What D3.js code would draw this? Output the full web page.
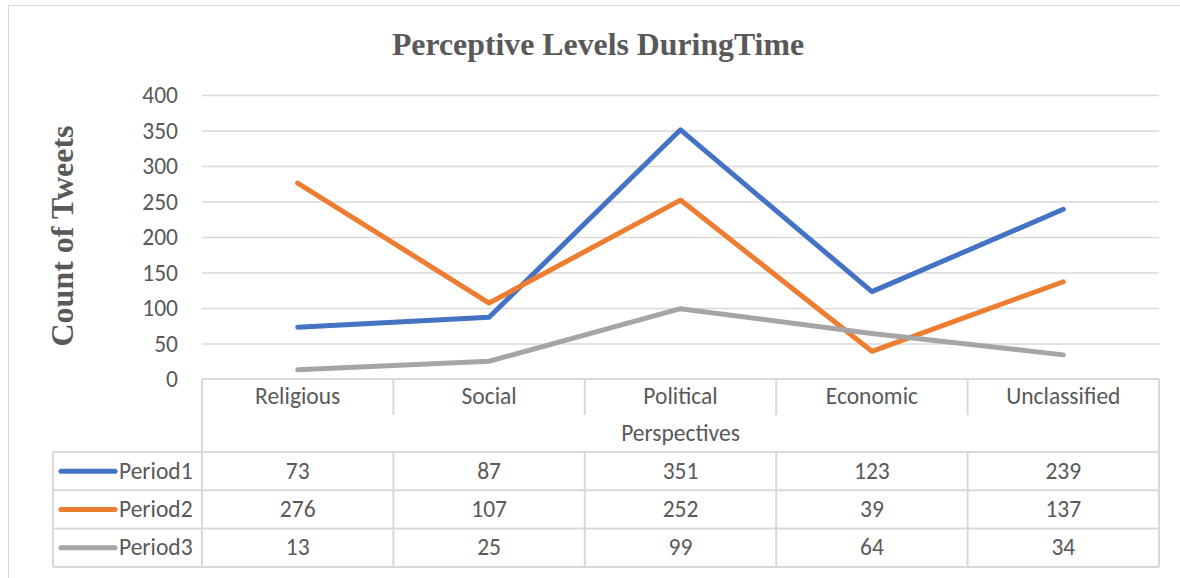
<!DOCTYPE html>
<html><head><meta charset="utf-8">
<script src="https://cdn.jsdelivr.net/npm/d3@7"></script>
<style>
html,body{margin:0;padding:0;background:#fff;}
svg{display:block;}
</style></head>
<body>
<svg id="chart" width="1180" height="578"></svg>
<script>
const categories = ["Religious","Social","Political","Economic","Unclassified"];
const seriesNames = ["Period1","Period2","Period3"];
const period1 = [73,87,351,123,239];
const period2 = [276,107,252,39,137];
const period3 = [13,25,99,64,34];
const yTicks = [0,50,100,150,200,250,300,350,400];
const colors = ["#4472C4","#ED7D31","#A5A5A5"];
const title = "Perceptive Levels DuringTime";
const yLabel = "Count of Tweets";
const xLabel = "Perspectives";

(function(){
const series = [period1, period2, period3];
const svg = d3.select("#chart");
const sansFont = "Carlito, Calibri, 'Open Sans', sans-serif";
const serifFont = "'Liberation Serif', 'Times New Roman', serif";
const textColor = "#595959";
const gridColor = "#d9d9d9";
const fs = 23.5;

svg.append("rect").attr("x",8.5).attr("y",5.5).attr("width",1200).attr("height",600)
  .attr("fill","none").attr("stroke","#d9d9d9").attr("stroke-width",1);

const pLeft = 202, pRight = 1159, pTop = 95, pBottom = 379;
const x = d3.scaleBand().domain(categories).range([pLeft,pRight]).padding(0);
const y = d3.scaleLinear().domain([0,400]).range([pBottom,pTop]);

svg.append("text").attr("x",598).attr("y",55).attr("text-anchor","middle")
  .attr("font-family",serifFont).attr("font-weight","bold").attr("font-size",31.8)
  .attr("fill",textColor).text(title);

svg.append("text").attr("transform","translate(73,236) rotate(-90)").attr("text-anchor","middle")
  .attr("font-family",serifFont).attr("font-weight","bold").attr("font-size",32)
  .attr("fill",textColor).text(yLabel);

const yAxis = d3.axisLeft(y).tickValues(yTicks).tickSize(-(pRight-pLeft)).tickPadding(24);
const gy = svg.append("g").attr("transform",`translate(${pLeft},0)`).call(yAxis);
gy.select(".domain").remove();
gy.selectAll(".tick line").attr("stroke",gridColor).attr("stroke-width",1.5);
gy.selectAll(".tick text").attr("font-family",sansFont).attr("font-size",fs).attr("fill",textColor);
gy.selectAll(".tick").filter(d=>d===0).select("line").remove();

const tbl = svg.append("g");
const rowTop = pBottom, catBottom = 415, perspBottom = 452;
const rowH = 38.3;
const tableLeft = 53;
const ln = (x1,y1,x2,y2)=>tbl.append("line").attr("x1",x1).attr("y1",y1).attr("x2",x2).attr("y2",y2)
  .attr("stroke",gridColor).attr("stroke-width",2);
ln(pLeft,rowTop,pRight,rowTop);
ln(pLeft,rowTop,pLeft,perspBottom);
ln(pRight,rowTop,pRight,perspBottom);
categories.forEach((c,i)=>{ if(i>0) ln(x(c),rowTop,x(c),catBottom); });
ln(tableLeft,perspBottom,pRight,perspBottom);
for(let r=0;r<3;r++){
  const yb = perspBottom + rowH*(r+1);
  ln(tableLeft,yb,pRight,yb);
}
const tBottom = perspBottom + rowH*3;
ln(tableLeft,perspBottom,tableLeft,tBottom);
ln(pRight,perspBottom,pRight,tBottom);
categories.forEach(c=>ln(x(c),perspBottom,x(c),tBottom));

tbl.selectAll("text.cat").data(categories).join("text").attr("class","cat")
  .attr("x",d=>x(d)+x.bandwidth()/2).attr("y",404).attr("text-anchor","middle")
  .attr("font-family",sansFont).attr("font-size",fs).attr("fill",textColor).text(d=>d);
tbl.append("text").attr("x",(pLeft+pRight)/2).attr("y",441).attr("text-anchor","middle")
  .attr("font-family",sansFont).attr("font-size",fs).attr("fill",textColor).text(xLabel);

series.forEach((vals,s)=>{
  const cy = perspBottom + rowH*s + rowH/2;
  tbl.append("line").attr("x1",61).attr("x2",115).attr("y1",cy).attr("y2",cy)
    .attr("stroke",colors[s]).attr("stroke-width",5).attr("stroke-linecap","round");
  tbl.append("text").attr("x",119).attr("y",cy+7.5).attr("font-family",sansFont).attr("font-size",fs)
    .attr("fill",textColor).text(seriesNames[s]);
  tbl.selectAll(null).data(vals).join("text")
    .attr("x",(d,i)=>x(categories[i])+x.bandwidth()/2).attr("y",cy+7.5).attr("text-anchor","middle")
    .attr("font-family",sansFont).attr("font-size",fs).attr("fill",textColor).text(d=>d);
});

const line = d3.line().x((d,i)=>x(categories[i])+x.bandwidth()/2).y(d=>y(d));
series.forEach((vals,s)=>{
  svg.append("path").datum(vals).attr("d",line).attr("fill","none")
    .attr("stroke",colors[s]).attr("stroke-width",5).attr("stroke-linejoin","round").attr("stroke-linecap","round");
});
})();
</script>
</body></html>
